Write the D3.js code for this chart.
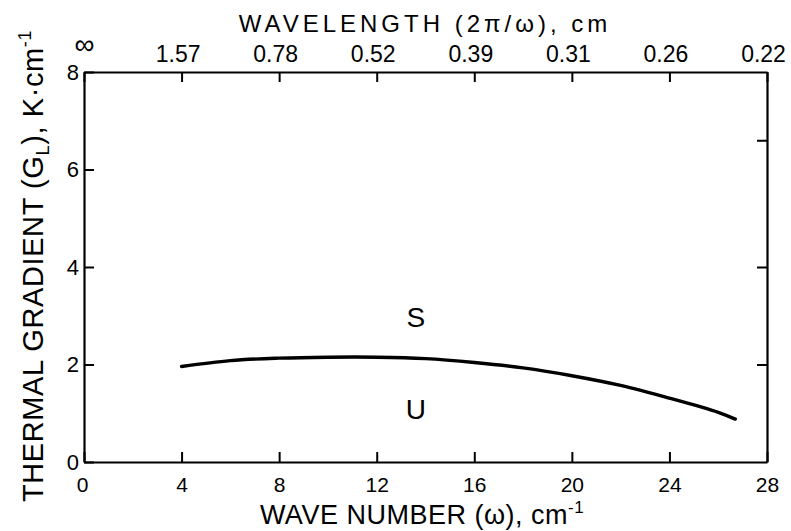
<!DOCTYPE html>
<html>
<head>
<meta charset="utf-8">
<script src="https://cdn.jsdelivr.net/npm/d3@7"></script>
<style>
  html, body { margin: 0; padding: 0; background: #fff; }
  svg { display: block; }
  text { font-family: "Liberation Sans", Arial, sans-serif; fill: #000; }
</style>
</head>
<body>
<svg id="chart" width="791" height="531"></svg>
<script>
// ---- data ----
const waveNumberTicks = [0, 4, 8, 12, 16, 20, 24, 28];
const wavelengthLabels = ["∞", "1.57", "0.78", "0.52", "0.39", "0.31", "0.26", "0.22"];
const gradientTicks = [0, 2, 4, 6, 8];
const rightTicks = [2, 4, 6.6];
const waveNumber = [4, 6, 8, 10, 12, 14, 16, 18, 20, 22, 24, 26, 26.7];
const gradient   = [1.96, 2.08, 2.13, 2.15, 2.15, 2.12, 2.04, 1.93, 1.77, 1.57, 1.31, 1.02, 0.88];
const regionLabels = [{ t: "S", x: 13.6, y: 2.97 }, { t: "U", x: 13.6, y: 1.07 }];

const svg = d3.select("#chart");
const L = 84, R = 767, T = 72, B = 462;
const x = d3.scaleLinear().domain([0, 28]).range([L, R]);
const y = d3.scaleLinear().domain([0, 8]).range([B, T]);

// bottom axis
const gB = svg.append("g").attr("transform", `translate(0,${B})`)
  .call(d3.axisBottom(x).tickValues(waveNumberTicks).tickSizeInner(-10).tickSizeOuter(0).tickPadding(15).tickFormat(d3.format("d")));
// top axis
const gT = svg.append("g").attr("transform", `translate(0,${T})`)
  .call(d3.axisTop(x).tickValues(waveNumberTicks).tickSizeInner(-10).tickSizeOuter(0).tickPadding(10)
    .tickFormat((d, i) => wavelengthLabels[i]));
// left axis
const gL = svg.append("g").attr("transform", `translate(${L},0)`)
  .call(d3.axisLeft(y).tickValues(gradientTicks).tickSizeInner(-10).tickSizeOuter(0).tickPadding(5).tickFormat(d3.format("d")));
// right axis
const gR = svg.append("g").attr("transform", `translate(${R},0)`)
  .call(d3.axisRight(y).tickValues(rightTicks).tickSizeInner(-10).tickSizeOuter(0).tickFormat(""));

[gB, gT, gL, gR].forEach(g => {
  g.select(".domain").attr("stroke", "#000").attr("stroke-width", 2.2);
  g.selectAll(".tick line").attr("stroke", "#000").attr("stroke-width", 2);
  g.selectAll(".tick text").attr("font-size", 21).attr("font-family", "Liberation Sans, Arial, sans-serif").attr("fill", "#000");
});
gT.selectAll(".tick text").attr("font-size", 23).attr("dx", -4);
gT.selectAll(".tick").filter(d => d === 0).select("text")
  .attr("font-size", 28).attr("dx", 0).attr("dy", "-0.3em");
gB.selectAll(".tick").filter(d => d === 0).select("text").attr("dx", -2);
gL.selectAll(".tick text").attr("font-size", 22);

// curve
const line = d3.line().x((d, i) => x(waveNumber[i])).y(d => y(d)).curve(d3.curveCatmullRom);
svg.append("path").datum(gradient).attr("d", line)
  .attr("fill", "none").attr("stroke", "#000").attr("stroke-width", 3.4).attr("stroke-linecap", "round");

// region labels
svg.selectAll(".reg").data(regionLabels).enter().append("text")
  .attr("class", "reg").attr("x", d => x(d.x)).attr("y", d => y(d.y))
  .attr("text-anchor", "middle").attr("dominant-baseline", "central")
  .attr("font-size", 28).text(d => d.t);

// top title
svg.append("text").attr("x", 425).attr("y", 32).attr("text-anchor", "middle")
  .attr("font-size", 24).attr("letter-spacing", 4)
  .text("WAVELENGTH (2π/ω), cm");

// bottom title
const bt = svg.append("text").attr("x", 422).attr("y", 524).attr("text-anchor", "middle")
  .attr("font-size", 27).attr("letter-spacing", 0.5);
bt.append("tspan").text("WAVE NUMBER (ω), cm");
bt.append("tspan").attr("font-size", 17).attr("dy", -11).text("-1");

// y title
const yt = svg.append("text").attr("transform", "translate(43,266) rotate(-90)")
  .attr("text-anchor", "middle").attr("font-size", 29).attr("letter-spacing", 0.6);
yt.append("tspan").text("THERMAL GRADIENT (G");
yt.append("tspan").attr("font-size", 18).attr("dy", 6).text("L");
yt.append("tspan").attr("dy", -6).text("), K·cm");
yt.append("tspan").attr("font-size", 18).attr("dy", -12).text("-1");
</script>
</body>
</html>
